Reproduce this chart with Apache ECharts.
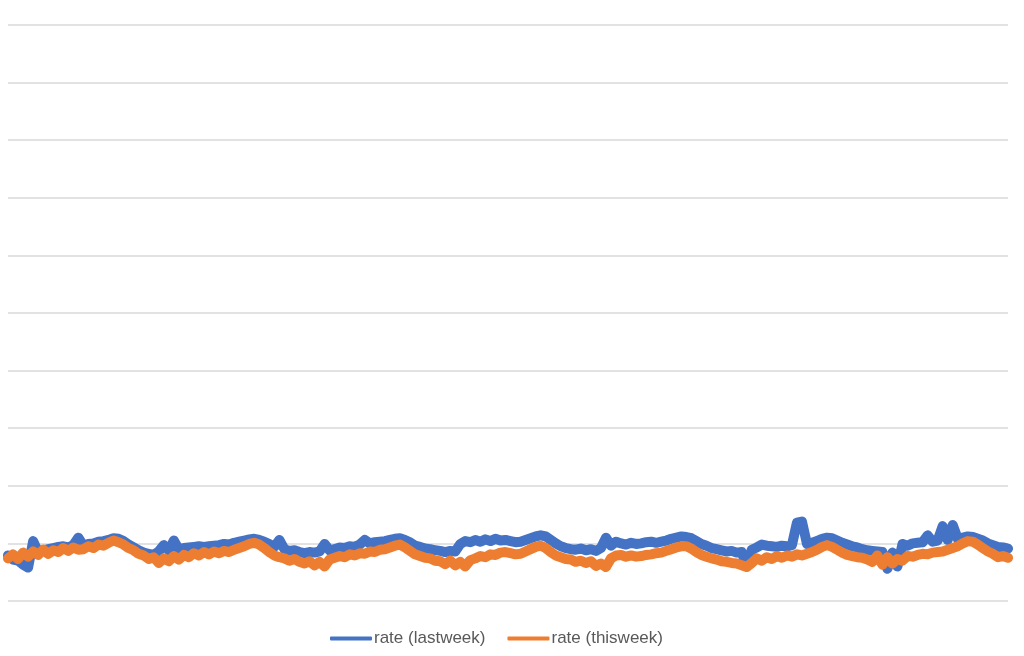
<!DOCTYPE html>
<html>
<head>
<meta charset="utf-8">
<script src="https://cdn.jsdelivr.net/npm/echarts@6/dist/echarts.min.js"></script>
<style>html,body{margin:0;padding:0;background:#fff}#c{width:1024px;height:656px}</style>
</head>
<body>
<div id="c"></div>
<script>
const seriesNames = ['rate (lastweek)', 'rate (thisweek)'];
const lastweek = [
7.9,7.2,7.0,6.3,5.8,10.4,8.5,8.8,9.0,9.2,
9.4,9.5,9.3,9.7,11.0,9.6,9.9,10.0,10.3,10.4,
10.6,10.9,10.8,10.4,9.8,9.3,8.8,8.4,8.2,8.0,
8.6,9.7,8.8,10.5,9.0,9.2,9.3,9.4,9.5,9.4,
9.5,9.6,9.7,9.9,9.8,10.1,10.3,10.5,10.7,10.8,
10.6,10.3,9.9,9.4,10.6,9.0,8.7,8.8,8.5,8.3,
8.5,8.4,8.6,9.9,8.8,9.0,9.3,9.2,9.5,9.4,
9.8,10.6,10.0,10.2,10.3,10.4,10.6,10.8,10.9,10.6,
10.2,9.6,9.4,9.1,9.0,8.8,8.7,8.5,8.7,8.6,
9.9,10.4,10.2,10.6,10.3,10.7,10.4,10.8,10.5,10.6,
10.4,10.2,10.3,10.6,10.9,11.2,11.4,11.2,10.6,10.0,
9.5,9.2,9.0,8.9,9.1,8.8,9.0,8.7,9.2,11.0,
9.6,10.3,10.0,9.8,10.1,9.9,10.0,10.2,10.3,10.1,
10.3,10.5,10.8,11.0,11.2,11.1,10.9,10.4,9.9,9.6,
9.2,9.0,8.8,8.6,8.7,8.4,8.5,6.0,8.9,9.3,
9.8,9.6,9.5,9.4,9.6,9.5,9.7,13.6,13.8,9.9,
10.1,10.4,10.8,11.0,10.9,10.5,10.1,9.8,9.5,9.3,
9.0,8.8,8.7,8.6,8.5,5.6,8.4,6.0,9.9,9.6,
10.0,10.1,10.2,11.4,10.3,10.5,13.0,10.6,13.2,10.8,
11.0,11.2,11.1,10.8,10.5,10.0,9.7,9.4,9.3,9.1
];
const thisweek = [
7.4,8.1,7.3,8.4,7.7,8.6,8.0,8.9,8.2,8.8,
8.5,9.2,8.7,9.3,8.9,9.0,9.5,9.2,9.8,9.6,
10.1,10.5,10.2,9.8,9.2,8.8,8.2,7.9,7.3,7.6,
6.6,7.4,6.9,7.8,7.2,8.0,7.6,8.3,7.9,8.5,
8.1,8.6,8.3,8.7,8.5,8.9,9.2,9.5,9.9,10.1,
9.8,9.2,8.5,7.9,7.6,7.4,7.0,7.3,6.8,6.5,
6.9,6.2,6.8,6.0,7.2,7.5,7.8,7.6,8.1,7.9,
8.3,8.2,8.6,8.5,8.9,9.0,9.3,9.6,9.8,9.3,
8.7,8.1,7.8,7.5,7.4,7.0,6.9,6.4,7.0,6.2,
6.8,6.0,7.1,7.4,7.8,7.6,8.1,8.0,8.4,8.5,
8.3,8.1,8.2,8.6,9.0,9.4,9.6,9.2,8.5,7.9,
7.6,7.3,7.2,6.8,7.0,6.6,6.9,6.1,6.5,5.9,
7.4,7.9,8.0,7.7,7.9,7.7,7.8,8.0,8.1,8.3,
8.4,8.7,9.0,9.3,9.5,9.5,9.1,8.5,8.0,7.7,
7.4,7.2,6.9,6.8,6.6,6.5,6.2,5.9,6.6,7.4,
7.0,7.6,7.3,7.8,7.5,7.9,7.7,8.1,7.9,8.2,
8.5,8.9,9.4,9.7,9.4,8.9,8.4,8.0,7.8,7.6,
7.5,7.2,6.8,7.9,6.3,7.6,6.5,7.3,7.0,7.8,
7.7,8.0,8.2,8.1,8.4,8.5,8.6,8.9,9.2,9.5,
10.0,10.4,10.3,9.8,9.2,8.6,8.2,7.6,7.8,7.5
];
const categories = lastweek.map((_, i) => String(i + 1));
const yTicks = { min: 0, max: 100, interval: 10 };

const chart = echarts.init(document.getElementById('c'), null, { renderer: 'canvas' });
chart.setOption({
  animation: false,
  backgroundColor: '#ffffff',
  grid: { left: 8, right: 16, top: 25, bottom: 55, containLabel: false },
  legend: {
    data: seriesNames,
    top: 630,
    left: 330,
    padding: 0,
    icon: 'roundRect',
    itemWidth: 42,
    itemHeight: 4,
    itemGap: 22,
    textStyle: { fontFamily: 'Liberation Sans', fontSize: 17, color: '#595959', padding: [0, 0, 0, -3] }
  },
  xAxis: {
    type: 'category',
    data: categories,
    boundaryGap: false,
    axisLine: { show: false },
    axisTick: { show: false },
    axisLabel: { show: false },
    splitLine: { show: false }
  },
  yAxis: {
    type: 'value',
    min: yTicks.min, max: yTicks.max, interval: yTicks.interval,
    axisLine: { show: false },
    axisTick: { show: false },
    axisLabel: { show: false },
    splitLine: { show: true, lineStyle: { color: '#d9d9d9', width: 1.5 } }
  },
  series: [
    { name: seriesNames[0], type: 'line', data: lastweek, symbol: 'none', z: 2,
      lineStyle: { color: '#4472C4', width: 10, join: 'round', cap: 'round' }, itemStyle: { color: '#4472C4' } },
    { name: seriesNames[1], type: 'line', data: thisweek, symbol: 'none', z: 3,
      lineStyle: { color: '#ED7D31', width: 10, join: 'round', cap: 'round' }, itemStyle: { color: '#ED7D31' } }
  ]
});
</script>
</body>
</html>
